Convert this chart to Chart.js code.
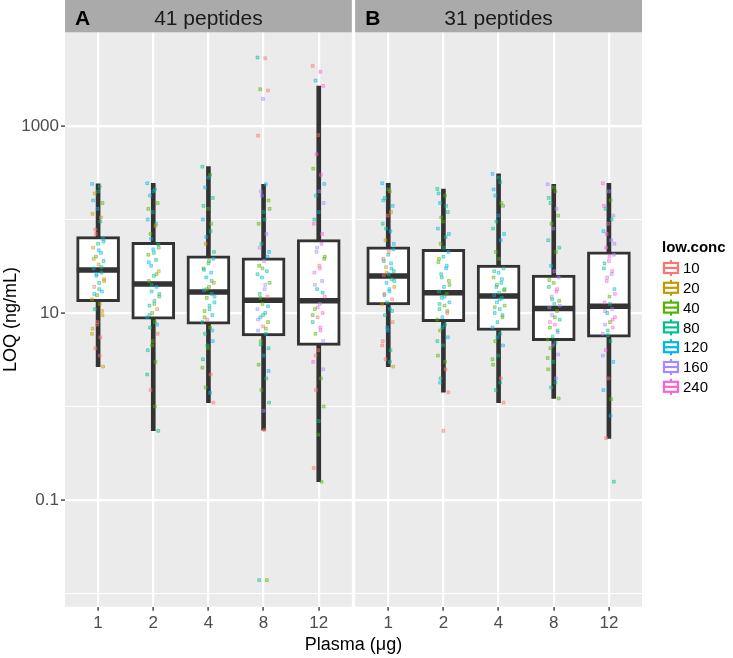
<!DOCTYPE html>
<html>
<head>
<meta charset="utf-8">
<script src="https://cdn.jsdelivr.net/npm/chart.js@4"></script>
<style>
  body { margin: 0; background: #fff; }
  #wrap { width: 733px; height: 658px; position: relative; }
</style>
</head>
<body>
<div id="wrap"><canvas id="chart"></canvas></div>
<script>
const plasma = ['1', '2', '4', '8', '12'];
const panelTags = ['A', 'B'];
const panelTitles = ['41 peptides', '31 peptides'];
const concLevels = ['10', '20', '40', '80', '120', '160', '240'];
const concColors = ['#F8766D', '#C49A00', '#53B400', '#00C094', '#00B6EB', '#A58AFF', '#FB61D7'];
const majorTicks = [0.1, 10, 1000];
const minorTicks = [0.01, 1, 100];

// box stats per plasma level: [lower whisker, q1, median, q3, upper whisker]
const boxA = [
	[2.67, 13.2, 28.8, 65.5, 240],
	[0.55, 8.6, 20.4, 57, 244],
	[1.1, 7.6, 16.8, 41, 367],
	[0.56, 5.7, 13.7, 39, 238],
	[0.157, 4.5, 13.5, 61, 2680],
];
const boxB = [
	[2.67, 12.2, 24.9, 51, 244],
	[1.42, 8.1, 16.5, 48, 212],
	[1.1, 6.5, 15.2, 32.6, 307],
	[1.22, 5.06, 11.2, 25.5, 238],
	[0.457, 5.5, 11.8, 45, 244],
];

// jittered LOQ values per plasma level: [low.conc index, LOQ]
const pointsA = [
	[[4,240],[3,225],[1,190],[2,150],[4,130],[1,115],[3,95],[0,78],
	 [4,62],[3,55],[1,50],[4,44],[2,40],[3,36],[1,33],[4,30],
	 [3,27],[4,25],[1,23],[3,21],[0,19],[4,17],[2,15.5],[1,14],
	 [1,12.5],[3,11],[1,9.5],[0,8],[1,6.8],[0,5.5],[0,4.2],[1,2.67],
	 [3,200],[4,160],[1,105],[0,70],[3,58],[4,47],[1,38],[3,31],
	 [4,26],[1,22],[3,18],[4,16],[1,10.5],[0,7.5],[1,6],[0,3.5]],
	[[4,244],[3,210],[4,180],[2,150],[3,120],[4,100],[1,85],[2,70],
	 [3,54],[4,48],[2,42],[3,37],[4,32],[1,28],[3,25],[2,22],
	 [4,19],[3,17],[2,15],[4,13.5],[3,12],[0,11],[2,10],[4,9],
	 [2,8],[3,7],[0,6],[2,5],[3,4],[2,3],[0,1.5],[3,0.55],
	 [4,200],[2,130],[3,90],[4,62],[2,50],[3,44],[4,35],[2,26],
	 [3,20],[4,16],[2,12.5],[3,9.5],[4,7.5],[2,4.5],[3,2.2],[2,1]],
	[[3,367],[2,300],[4,220],[3,170],[2,130],[4,100],[3,75],[1,55],
	 [4,38],[3,34],[2,30],[4,27],[3,24],[1,21],[2,19],[4,17.5],
	 [3,16],[2,14.5],[4,13],[3,12],[2,10.5],[4,9.5],[0,8.5],[3,8],
	 [2,7],[3,6],[4,5],[2,4.2],[3,3.2],[0,2.2],[2,1.6],[0,1.1],
	 [4,280],[3,140],[2,90],[4,65],[3,45],[2,36],[4,29],[3,22],
	 [2,18],[4,15],[3,11],[2,9],[4,6.5],[3,4.5],[2,2.6],[4,1.4]],
	[[3,5400],[0,5300],[2,2470],[0,2400],[5,1950],[0,787],
	 [4,238],[5,200],[2,160],[3,120],[2,90],[5,70],[3,55],[4,45],
	 [5,36],[2,32],[3,28],[4,24],[2,21],[5,18],[3,16],[0,15],
	 [2,12.5],[5,11],[3,10],[4,9],[2,8],[0,7.2],[5,6.5],[3,6],
	 [2,5],[3,4.2],[4,3.5],[2,2.8],[3,2],[2,1.5],[3,1.1],[0,0.56],
	 [3,0.0139],[2,0.0139],
	 [5,180],[2,130],[3,100],[5,50],[4,40],[2,30],[3,26],[5,20],
	 [2,14.5],[4,11.8],[3,9.5],[5,8.5],[2,6.8],[3,4.6],[4,2.4],[5,0.9]],
	[[0,4400],[6,3800],[4,3050],
	 [6,2680],[0,800],[2,350],[6,300],[3,180],[5,150],[4,120],[6,90],
	 [6,55],[5,45],[2,38],[0,32],[6,27],[5,22],[3,18],[6,15],
	 [5,12.5],[2,11],[6,10],[0,9],[3,8],[6,7],[2,6],[5,5],
	 [0,4],[6,3],[2,2],[0,1.5],[2,1],[3,0.7],[0,0.22],[2,0.157],
	 [6,500],[4,240],[5,200],[3,100],[6,70],[5,50],[2,40],[6,30],
	 [5,20],[3,16.5],[6,11.5],[2,9.5],[6,6.5],[0,3.5],[5,2.5],[2,0.5]],
];
const pointsB = [
	[[4,244],[1,200],[3,170],[4,140],[0,110],[3,90],[4,75],[1,60],
	 [4,48],[3,42],[0,38],[4,34],[1,31],[3,28],[4,26],[0,25.5],
	 [3,23],[4,21],[1,19],[3,17],[4,15.5],[0,14],[3,13],[1,12.5],
	 [4,11],[3,9.5],[0,8],[4,6.5],[0,5],[3,4],[0,3.2],[1,2.67],
	 [3,210],[4,160],[1,120],[3,80],[4,55],[0,45],[3,36],[4,30],
	 [1,27],[3,22],[4,18],[0,16],[3,10.5],[4,7],[0,4.5],[3,3]],
	[[3,212],[2,180],[4,150],[3,120],[2,95],[4,80],[3,65],[2,55],
	 [4,45],[3,40],[2,35],[4,30],[3,26],[2,22],[4,19],[3,17],
	 [2,16],[3,14.5],[4,13],[2,12],[3,11],[0,10],[4,9],[2,8.5],
	 [3,7.5],[2,6.5],[4,5.5],[3,4.5],[2,3.5],[0,2.5],[3,2],[0,1.42],[0,0.55],
	 [4,190],[3,140],[2,105],[4,70],[3,50],[2,38],[4,32],[3,24],
	 [2,20],[4,15],[3,12.5],[2,10.5],[4,7],[3,5],[2,3],[4,1.8]],
	[[4,307],[3,250],[4,180],[2,140],[4,110],[3,80],[4,60],[2,45],
	 [3,30],[4,27],[2,24],[3,21],[4,19],[2,17.5],[3,16.5],[4,15.5],
	 [3,14.5],[4,13],[2,12],[3,11],[4,10],[2,9],[3,8],[4,7],
	 [3,6],[2,5],[4,4.5],[3,3.5],[2,2.8],[0,2],[3,1.5],[0,1.1],
	 [3,280],[4,210],[2,150],[3,95],[4,70],[2,38],[3,28],[4,23],
	 [2,20],[3,18],[4,14],[2,11.5],[3,9.5],[4,5.5],[2,3.2],[3,1.8]],
	[[5,238],[2,200],[3,150],[2,110],[5,80],[3,60],[2,45],[4,32],
	 [5,24],[2,21],[3,19],[6,17],[5,15],[2,13.5],[3,12.5],[5,11.5],
	 [2,10.5],[5,9.5],[3,8.5],[6,7.5],[2,7],[5,6.2],[3,5.6],[2,5.2],
	 [3,4.8],[2,4.2],[5,3.6],[3,3],[2,2.5],[5,2],[3,1.6],[2,1.22],
	 [2,220],[3,170],[5,130],[2,90],[3,50],[5,28],[2,22.5],[6,18],
	 [3,14],[5,12],[2,9],[6,8],[3,6.5],[5,4.5],[2,3.3],[3,1.8]],
	[[6,244],[2,160],[3,130],[5,110],[6,90],[4,75],[5,60],[6,50],
	 [5,42],[6,36],[3,30],[5,26],[6,22],[4,18],[2,15],[6,13],
	 [5,11],[3,10],[6,9],[2,8],[5,7.5],[6,7],[3,6.5],[5,6],
	 [3,5],[6,4],[4,3],[0,2],[4,1.5],[2,1.2],[0,0.46],[3,0.157],
	 [5,200],[6,140],[3,100],[6,70],[5,55],[6,40],[3,34],[6,28],
	 [5,24],[6,16],[3,12.5],[5,10.5],[6,8.5],[3,5.8],[5,3.5],[4,0.8]],
];

// facet layout on one linear x axis: panel A spans 0.4-5.6, panel B 5.66-10.86
const panelShift = [0, 5.26];
const jitterAt = (k) => ((k * 37) % 23 - 11) / 100;

const whiskerData = [];
const boxData = [];
const medianData = [];
const jitterData = concLevels.map(() => []);
const xTicks = [];

[boxA, boxB].forEach((panel, p) => {
	const pts = [pointsA, pointsB][p];
	panel.forEach((s, i) => {
		const x = i + 1 + panelShift[p];
		xTicks.push(x);
		whiskerData.push({ x, y: [s[0], s[1]] }, { x, y: [s[3], s[4]] });
		boxData.push({ x, y: [s[1], s[3]] });
		medianData.push({ x, y: s[2] });
		pts[i].forEach(([c, v], k) => jitterData[c].push({ x: x + jitterAt(k), y: v }));
	});
});

function fade(hex, a) {
	const n = parseInt(hex.slice(1), 16);
	return `rgba(${n >> 16}, ${(n >> 8) & 255}, ${n & 255}, ${a})`;
}

const facetPlugin = {
	id: 'facets',
	beforeDraw(chart) {
		const { ctx, chartArea, scales } = chart;
		ctx.save();
		panelShift.forEach((shift) => {
			const l = scales.x.getPixelForValue(0.4 + shift);
			const r = scales.x.getPixelForValue(5.6 + shift);
			ctx.fillStyle = '#EBEBEB';
			ctx.fillRect(l, chartArea.top, r - l, chartArea.bottom - chartArea.top);
		});
		ctx.restore();
	},
	afterDraw(chart) {
		const { ctx, chartArea, scales } = chart;
		ctx.save();
		panelShift.forEach((shift, p) => {
			const l = scales.x.getPixelForValue(0.4 + shift);
			const r = scales.x.getPixelForValue(5.6 + shift);
			ctx.fillStyle = '#AAAAAA';
			ctx.fillRect(l, 0, r - l, chartArea.top);
			ctx.fillStyle = '#1A1A1A';
			ctx.textBaseline = 'alphabetic';
			ctx.font = '21px "Liberation Sans", Arial, sans-serif';
			ctx.textAlign = 'center';
			ctx.fillText(panelTitles[p], (l + r) / 2, 25);
			ctx.font = 'bold 21px "Liberation Sans", Arial, sans-serif';
			ctx.textAlign = 'left';
			ctx.fillStyle = '#000';
			ctx.fillText(panelTags[p], l + 10, 25);
		});

		// legend
		const lx = 662;
		ctx.fillStyle = '#000';
		ctx.textAlign = 'left';
		ctx.textBaseline = 'middle';
		ctx.font = 'bold 15px "Liberation Sans", Arial, sans-serif';
		ctx.fillText('low.conc', lx, 248);
		ctx.font = '15px "Liberation Sans", Arial, sans-serif';
		concLevels.forEach((lab, i) => {
			const y = 268 + i * 19.8;
			const col = concColors[i];
			ctx.strokeStyle = col;
			ctx.lineWidth = 2.2;
			ctx.beginPath();
			ctx.moveTo(lx + 9, y - 8);
			ctx.lineTo(lx + 9, y + 8);
			ctx.stroke();
			ctx.fillStyle = '#fff';
			ctx.fillRect(lx + 2, y - 5, 14, 10);
			ctx.strokeRect(lx + 2, y - 5, 14, 10);
			ctx.beginPath();
			ctx.moveTo(lx + 2, y);
			ctx.lineTo(lx + 16, y);
			ctx.stroke();
			ctx.fillStyle = '#000';
			ctx.fillText(lab, lx + 21, y + 1);
		});
		ctx.restore();
	},
};

const datasets = concLevels.map((lab, c) => ({
	type: 'scatter',
	label: lab,
	data: jitterData[c],
	pointStyle: 'rect',
	pointRadius: 2,
	backgroundColor: fade(concColors[c], 0.35),
	borderColor: fade(concColors[c], 0.6),
	borderWidth: 0.8,
}));

datasets.push(
	{
		type: 'scatter',
		label: 'median',
		data: medianData,
		pointStyle: 'line',
		pointRadius: 21.3,
		borderColor: '#333333',
		borderWidth: 5.5,
	},
	{
		type: 'bar',
		label: 'box',
		data: boxData,
		grouped: false,
		barThickness: 43,
		backgroundColor: '#FFFFFF',
		borderColor: '#333333',
		borderWidth: 3,
		borderSkipped: false,
	},
	{
		type: 'bar',
		label: 'whisker',
		data: whiskerData,
		grouped: false,
		barThickness: 4,
		backgroundColor: '#333333',
		borderWidth: 0,
	}
);

const tickFont = { family: '"Liberation Sans", Arial, sans-serif', size: 17 };
const titleFont = { family: '"Liberation Sans", Arial, sans-serif', size: 18 };

new Chart(document.querySelector('#chart'), {
	type: 'bar',
	data: { datasets },
	plugins: [facetPlugin],
	options: {
		responsive: true,
		maintainAspectRatio: false,
		animation: false,
		layout: { padding: { top: 32.3, right: 91, bottom: 0, left: 0 } },
		plugins: {
			legend: { display: false },
			tooltip: { enabled: false },
		},
		scales: {
			x: {
				type: 'linear',
				min: 0.4,
				max: 10.86,
				offset: false,
				afterBuildTicks: (scale) => {
					scale.ticks = xTicks.map((v) => ({ value: v }));
				},
				afterFit: (scale) => {
					scale.height = 51.3;
				},
				ticks: {
					autoSkip: false,
					maxRotation: 0,
					color: '#4D4D4D',
					font: tickFont,
					padding: 2,
					callback: (v, i) => plasma[i % plasma.length],
				},
				grid: {
					offset: false,
					color: '#FFFFFF',
					lineWidth: 2.2,
					tickLength: 4,
					tickColor: '#555555',
					tickWidth: 1.6,
				},
				border: { display: false },
				title: {
					display: true,
					text: 'Plasma (μg)',
					color: '#000',
					font: titleFont,
					padding: { top: 0, bottom: 2 },
				},
			},
			y: {
				type: 'logarithmic',
				min: 0.00723,
				max: 10046,
				afterBuildTicks: (scale) => {
					scale.ticks = [...minorTicks, ...majorTicks].sort((a, b) => a - b).map((v) => ({ value: v }));
				},
				afterFit: (scale) => {
					scale.width = 65;
				},
				ticks: {
					autoSkip: false,
					color: '#4D4D4D',
					font: tickFont,
					padding: 2,
					callback: (v) => (majorTicks.includes(v) ? String(v) : ''),
				},
				grid: {
					color: '#FFFFFF',
					lineWidth: (ctx) => (majorTicks.includes(ctx.tick.value) ? 2.2 : 1),
					tickLength: 4,
					tickColor: (ctx) => (majorTicks.includes(ctx.tick.value) ? '#555555' : 'rgba(0,0,0,0)'),
					tickWidth: 1.6,
				},
				border: { display: false },
				title: {
					display: true,
					text: 'LOQ (ng/mL)',
					color: '#000',
					font: titleFont,
					padding: 0,
				},
			},
		},
	},
});
</script>
</body>
</html>
